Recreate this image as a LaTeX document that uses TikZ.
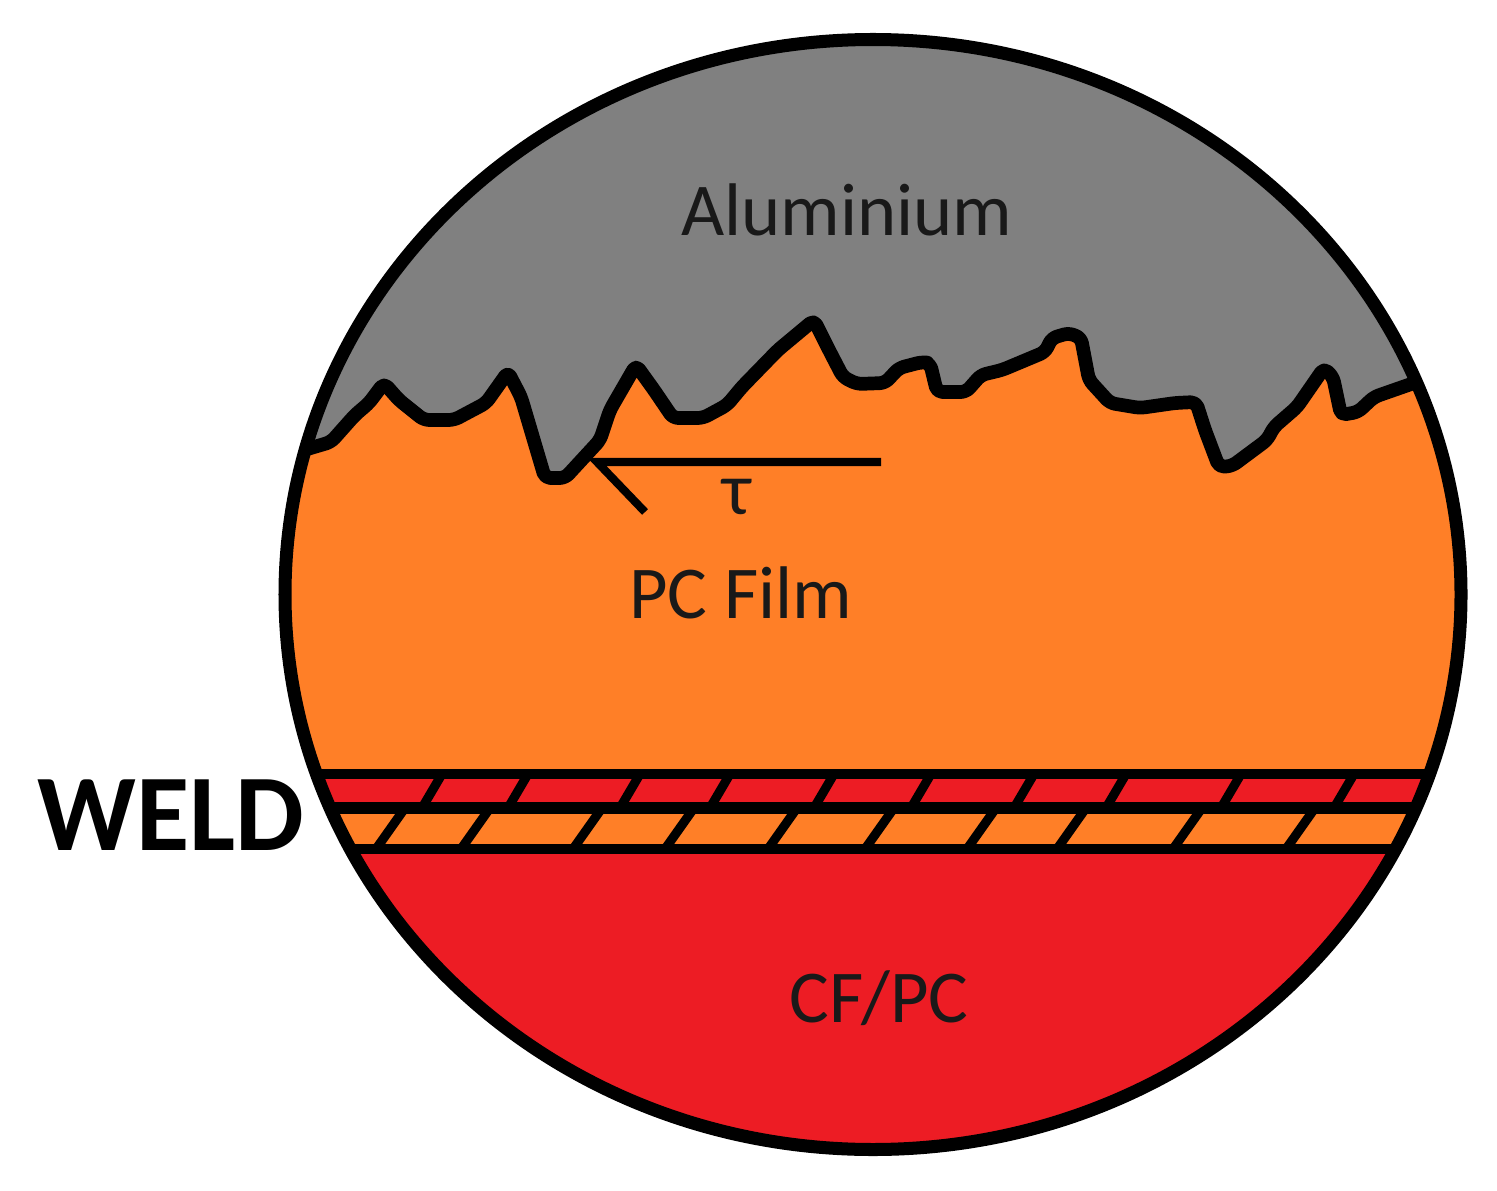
\documentclass[tikz,border=0pt]{standalone}
\usepackage{fontspec}
\setmainfont{Carlito}
\definecolor{alugrey}{HTML}{808080}
\definecolor{filmorange}{HTML}{FF7F27}
\definecolor{cfred}{HTML}{ED1C24}
\tikzset{%
  x=0.01cm, y=-0.01cm,
  outline/.style={draw=black, line width=3.7pt, line join=round},
  ridge/.style={draw=black, line width=3.9pt, line join=round, rounded corners=1.5pt},
  bandline/.style={draw=black, line width=2.6pt},
  label/.style={font=\fontsize{21.2pt}{24pt}\selectfont, text=black!90, inner sep=0pt},
  weldlabel/.style={font=\fontsize{31pt}{34pt}\selectfont\bfseries, text=black, inner sep=0pt}
}
\newcommand{\ridgeline}{(304,450) -- (331,442) -- (355,415) -- (369,403) -- (384,383) -- (399,400)
  -- (424,420) -- (454,420) -- (486,403) -- (508,372) -- (521,397) -- (545,478) -- (565,478)
  -- (600,440) -- (610,410) -- (636,365) -- (654,390) -- (673,418) -- (703,418) -- (727,405)
  -- (742,387) -- (778,350) -- (814,320) -- (829,350) -- (843,377) -- (857,384) -- (885,383)
  -- (899,368) -- (922,362) -- (930,363) -- (937,392) -- (966,392) -- (981,375) -- (1002,370)
  -- (1045,352) -- (1052,338) -- (1069,333) -- (1081,338) -- (1089,380) -- (1110,403) -- (1140,408)
  -- (1175,403) -- (1196,402) -- (1205,430) -- (1219,467) -- (1232,466) -- (1267,440) -- (1274,427)
  -- (1297,407) -- (1324,368) -- (1333,377) -- (1341,415) -- (1358,412) -- (1374,397) -- (1414,383)}

\begin{document}
\begin{tikzpicture}
  \useasboundingbox (0,0) rectangle (1497,1191);

  \begin{scope}
    \clip (873,594.5) ellipse [x radius=588, y radius=555];
    \fill[filmorange] (0,0) rectangle (1497,1191);
    \fill[alugrey] \ridgeline -- (1497,383) -- (1497,0) -- (0,0) -- (0,450) -- cycle;
    \fill[cfred] (0,774) rectangle (1497,808);
    \fill[cfred] (0,849) rectangle (1497,1191);
    \draw[ridge] \ridgeline;

    % weld bands
    \draw[bandline] (0,774) -- (1497,774);
    \draw[bandline, line width=3.4pt] (0,808) -- (1497,808);
    \draw[bandline] (0,849) -- (1497,849);
    \foreach \xtop in {442,528,640,730,834,931,1034,1126,1241,1354}
      \draw[bandline] (\xtop,774) -- ++(-20,34);
    \foreach \xtop in {405,490,602,694,797,894,996,1086,1202,1315}
      \draw[bandline] (\xtop,808) -- ++(-29,41);
  \end{scope}
  \draw[outline] (873,594.5) ellipse [x radius=588, y radius=555];

  \coordinate (tailend) at (881,462);
  \coordinate (tip) at (597,462);
  \coordinate (barb) at (645,512);
  \draw[bandline, line width=2.3pt, line join=miter] (tailend) -- (tip) -- (barb);

  \node[label] (alu) at (847,210) {Aluminium};
  \node[label] (tau) at (737,497) {τ};
  \node[label] (film) at (741,593) {PC Film};
  \node[label] (cfpc) at (879,998) {CF/PC};
  \node[weldlabel] (weld) at (171,815) {WELD};
\end{tikzpicture}
\end{document}
